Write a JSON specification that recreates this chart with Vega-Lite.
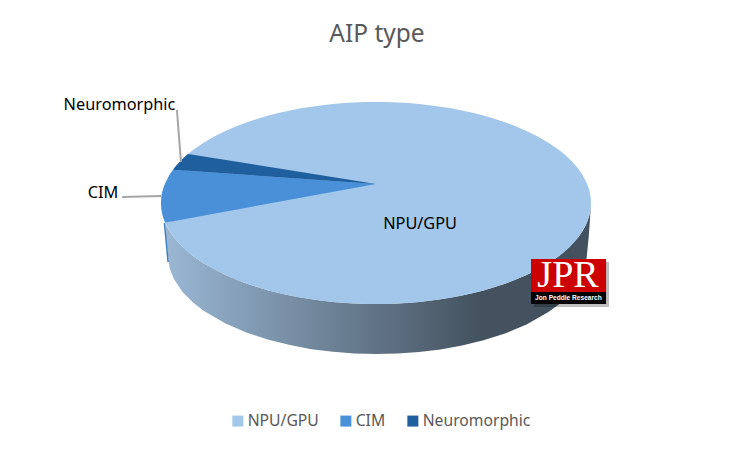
{
"$schema":"https://vega.github.io/schema/vega-lite/v6.json",
"width":754,"height":350,
"autosize":{"type":"none"},
"padding":{"top":50,"bottom":54,"left":0,"right":0},
"background":"white",
"config":{"view":{"stroke":null},"font":"Noto Sans"},
"title":{"text":"AIP type","anchor":"middle","frame":"group","fontSize":24.5,"fontWeight":"normal","color":"#595959","font":"Noto Sans","offset":3},
"encoding":{
"x":{"field":"u","type":"quantitative","scale":{"domain":[-174.88,175.81],"nice":false,"zero":false},"axis":null},
"y":{"field":"v","type":"quantitative","scale":{"domain":[-195.05,151.49],"nice":false,"zero":false},"axis":null}
},
"layer":[
{"data":{"values":[
{"u":-98,"v":-19.9,"v2":-19.9},{"u":-97.5,"v":-22.2,"v2":-37},{"u":-96.7,"v":-25.5,"v2":-52},{"u":-96,"v":-28,"v2":-64.5},{"u":-94,"v":-34.1,"v2":-75.3},{"u":-90,"v":-43.6,"v2":-88},{"u":-85,"v":-52.7,"v2":-98.7},{"u":-80,"v":-60,"v2":-106.9},{"u":-70,"v":-71.4,"v2":-119.3},{"u":-60,"v":-80,"v2":-128.4},{"u":-50,"v":-86.6,"v2":-135.4},{"u":-40,"v":-91.7,"v2":-140.7},{"u":-30,"v":-95.4,"v2":-144.7},{"u":-20,"v":-98,"v2":-147.3},{"u":-10,"v":-99.5,"v2":-148.9},{"u":0,"v":-100,"v2":-149.5},{"u":10,"v":-99.5,"v2":-149},{"u":20,"v":-98,"v2":-147.5},{"u":30,"v":-95.4,"v2":-145},{"u":40,"v":-91.7,"v2":-141.1},{"u":50,"v":-86.6,"v2":-135.9},{"u":60,"v":-80,"v2":-129.2},{"u":70,"v":-71.4,"v2":-120.3},{"u":80,"v":-60,"v2":-108.2},{"u":85,"v":-52.7,"v2":-100.4},{"u":90,"v":-43.6,"v2":-90.3},{"u":94,"v":-34.1,"v2":-78.9},{"u":96,"v":-28,"v2":-70.4},{"u":97.5,"v":-22.2,"v2":-58.4},{"u":98,"v":-19.9,"v2":-54},{"u":99,"v":-14.1,"v2":-31.7},{"u":99.5,"v":-10,"v2":-16.8},{"u":100,"v":0,"v2":0}
]},
"mark":{"type":"area","fill":{"gradient":"linear","x1":0,"y1":0,"x2":1,"y2":0,"stops":[{"offset":0,"color":"#9AB7D4"},{"offset":0.74,"color":"#44525F"},{"offset":1,"color":"#44525F"}]}},
"encoding":{"y2":{"field":"v2"}}},
{"data":{"values":[{"u":-98.4,"v":-19.8},{"u":-96.7,"v":-58.4}]},
"mark":{"type":"line","color":"#3F7FC4","strokeWidth":1.5}},
{"data":{"values":[
{"slice":"NPU/GPU","u":-100,"v":0,"v2":0},{"slice":"NPU/GPU","u":-99.8,"v":6.3,"v2":-6.3},{"slice":"NPU/GPU","u":-99.5,"v":10,"v2":-10},{"slice":"NPU/GPU","u":-99,"v":14.1,"v2":-14.1},{"slice":"NPU/GPU","u":-98,"v":19.9,"v2":-19.9},{"slice":"NPU/GPU","u":-96,"v":28,"v2":-28},{"slice":"NPU/GPU","u":-94,"v":34.1,"v2":-34.1},{"slice":"NPU/GPU","u":-92,"v":39.2,"v2":-39.2},{"slice":"NPU/GPU","u":-90,"v":43.6,"v2":-43.6},{"slice":"NPU/GPU","u":-87.5,"v":48.4,"v2":-48.4},{"slice":"NPU/GPU","u":-85,"v":52.7,"v2":-52.7},{"slice":"NPU/GPU","u":-80,"v":60,"v2":-60},{"slice":"NPU/GPU","u":-75,"v":66.1,"v2":-66.1},{"slice":"NPU/GPU","u":-70,"v":71.4,"v2":-71.4},{"slice":"NPU/GPU","u":-65,"v":76,"v2":-76},{"slice":"NPU/GPU","u":-60,"v":80,"v2":-80},{"slice":"NPU/GPU","u":-55,"v":83.5,"v2":-83.5},{"slice":"NPU/GPU","u":-50,"v":86.6,"v2":-86.6},{"slice":"NPU/GPU","u":-45,"v":89.3,"v2":-89.3},{"slice":"NPU/GPU","u":-40,"v":91.7,"v2":-91.7},{"slice":"NPU/GPU","u":-35,"v":93.7,"v2":-93.7},{"slice":"NPU/GPU","u":-30,"v":95.4,"v2":-95.4},{"slice":"NPU/GPU","u":-25,"v":96.8,"v2":-96.8},{"slice":"NPU/GPU","u":-20,"v":98,"v2":-98},{"slice":"NPU/GPU","u":-15,"v":98.9,"v2":-98.9},{"slice":"NPU/GPU","u":-10,"v":99.5,"v2":-99.5},{"slice":"NPU/GPU","u":-5,"v":99.9,"v2":-99.9},{"slice":"NPU/GPU","u":0,"v":100,"v2":-100},{"slice":"NPU/GPU","u":5,"v":99.9,"v2":-99.9},{"slice":"NPU/GPU","u":10,"v":99.5,"v2":-99.5},{"slice":"NPU/GPU","u":15,"v":98.9,"v2":-98.9},{"slice":"NPU/GPU","u":20,"v":98,"v2":-98},{"slice":"NPU/GPU","u":25,"v":96.8,"v2":-96.8},{"slice":"NPU/GPU","u":30,"v":95.4,"v2":-95.4},{"slice":"NPU/GPU","u":35,"v":93.7,"v2":-93.7},{"slice":"NPU/GPU","u":40,"v":91.7,"v2":-91.7},{"slice":"NPU/GPU","u":45,"v":89.3,"v2":-89.3},{"slice":"NPU/GPU","u":50,"v":86.6,"v2":-86.6},{"slice":"NPU/GPU","u":55,"v":83.5,"v2":-83.5},{"slice":"NPU/GPU","u":60,"v":80,"v2":-80},{"slice":"NPU/GPU","u":65,"v":76,"v2":-76},{"slice":"NPU/GPU","u":70,"v":71.4,"v2":-71.4},{"slice":"NPU/GPU","u":75,"v":66.1,"v2":-66.1},{"slice":"NPU/GPU","u":80,"v":60,"v2":-60},{"slice":"NPU/GPU","u":85,"v":52.7,"v2":-52.7},{"slice":"NPU/GPU","u":87.5,"v":48.4,"v2":-48.4},{"slice":"NPU/GPU","u":90,"v":43.6,"v2":-43.6},{"slice":"NPU/GPU","u":92,"v":39.2,"v2":-39.2},{"slice":"NPU/GPU","u":94,"v":34.1,"v2":-34.1},{"slice":"NPU/GPU","u":96,"v":28,"v2":-28},{"slice":"NPU/GPU","u":98,"v":19.9,"v2":-19.9},{"slice":"NPU/GPU","u":99,"v":14.1,"v2":-14.1},{"slice":"NPU/GPU","u":99.5,"v":10,"v2":-10},{"slice":"NPU/GPU","u":99.8,"v":6.3,"v2":-6.3},{"slice":"NPU/GPU","u":100,"v":0,"v2":0},
{"slice":"CIM","u":-100,"v":0,"v2":0},{"slice":"CIM","u":-99.8,"v":6.3,"v2":-6.3},{"slice":"CIM","u":-99.5,"v":10,"v2":-10},{"slice":"CIM","u":-99,"v":14.1,"v2":-14.1},{"slice":"CIM","u":-98.1,"v":19.4,"v2":-19.4},{"slice":"CIM","u":-96,"v":28,"v2":-18.6},{"slice":"CIM","u":-94.4,"v":33,"v2":-18},{"slice":"CIM","u":0,"v":18.8,"v2":18.8},
{"slice":"Neuromorphic","u":-94.4,"v":33,"v2":33},{"slice":"Neuromorphic","u":-93,"v":36.8,"v2":32.8},{"slice":"Neuromorphic","u":-92,"v":39.2,"v2":32.6},{"slice":"Neuromorphic","u":-90,"v":43.6,"v2":32.3},{"slice":"Neuromorphic","u":-88,"v":47.5,"v2":32},{"slice":"Neuromorphic","u":-87.4,"v":48.6,"v2":31.9},{"slice":"Neuromorphic","u":0,"v":18.8,"v2":18.8}
]},
"mark":{"type":"area"},
"encoding":{"y2":{"field":"v2"},
"color":{"field":"slice","type":"nominal","sort":["NPU/GPU","CIM","Neuromorphic"],"scale":{"domain":["NPU/GPU","CIM","Neuromorphic"],"range":["#A3C7EA","#4A90D9","#1F5F9E"]},
"legend":{"orient":"none","legendX":230,"legendY":363,"direction":"horizontal","title":null,"symbolType":"square","symbolSize":121,"symbolStrokeWidth":0,"labelFontSize":15.7,"labelColor":"#595959","labelFont":"Noto Sans","columnPadding":19,"labelOffset":2}}}},
{"data":{"values":[{"leader":"Neuromorphic","u":-92.6,"v":92.1},{"leader":"Neuromorphic","u":-90.7,"v":40.6},{"leader":"CIM","u":-118.1,"v":5.9},{"leader":"CIM","u":-100,"v":6.9}]},
"mark":{"type":"line","color":"#A6A6A6","strokeWidth":2},
"encoding":{"detail":{"field":"leader"}}},
{"data":{"values":[{"label":"Neuromorphic","u":-119.3,"v":97},{"label":"CIM","u":-127,"v":9.9},{"label":"NPU/GPU","u":20.5,"v":-20.8}]},
"mark":{"type":"text","fontSize":16.3,"color":"#000000","font":"Noto Sans","align":"center","baseline":"middle"},
"encoding":{"text":{"field":"label"}}},
{"data":{"values":[{"u":73.5,"u2":108.4,"v":-58.4,"v2":-103}]},
"mark":{"type":"rect","color":"#000000","opacity":0.25},
"encoding":{"x2":{"field":"u2"},"y2":{"field":"v2"}}},
{"data":{"values":[{"u":72.1,"u2":107,"v":-55.4,"v2":-88.1}]},
"mark":{"type":"rect","color":"#CC0000"},
"encoding":{"x2":{"field":"u2"},"y2":{"field":"v2"}}},
{"data":{"values":[{"u":72.1,"u2":107,"v":-88.1,"v2":-100}]},
"mark":{"type":"rect","color":"#000000"},
"encoding":{"x2":{"field":"u2"},"y2":{"field":"v2"}}},
{"data":{"values":[{"t":"JPR","u":89.3,"v":-83.2}]},
"mark":{"type":"text","fontSize":38,"color":"#FFFFFF","font":"Liberation Serif","align":"center","baseline":"alphabetic"},
"encoding":{"text":{"field":"t"}}},
{"data":{"values":[{"t":"Jon Peddie Research","u":89.5,"v":-94}]},
"mark":{"type":"text","fontSize":6.6,"fontWeight":"bold","color":"#FFFFFF","font":"Liberation Sans","align":"center","baseline":"middle"},
"encoding":{"text":{"field":"t"}}}
]
}
